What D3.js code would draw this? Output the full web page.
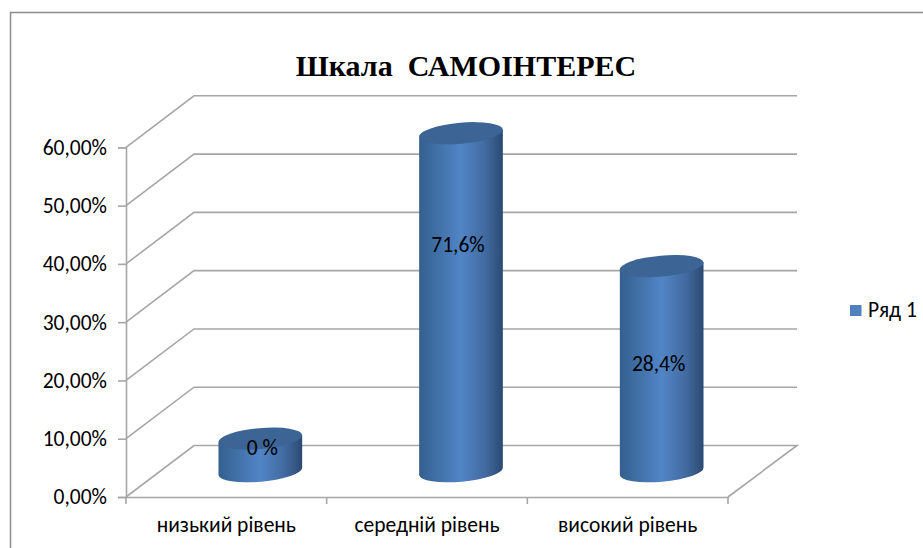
<!DOCTYPE html>
<html>
<head>
<meta charset="utf-8">
<script src="https://cdn.jsdelivr.net/npm/d3@7"></script>
<style>
html,body{margin:0;padding:0;background:#fff;}
svg{display:block;}
</style>
</head>
<body>
<svg id="chart" width="923" height="548"></svg>
<script>
// data
var categories=["низький рівень","середній рівень","високий рівень"];
var values=[5.6,58,35.2];
var barLabels=["0 %","71,6%","28,4%"];
var yTicks=[0,10,20,30,40,50,60];
var seriesName="Ряд 1";
var titleText="Шкала  САМОІНТЕРЕС";

var svg=d3.select("#chart");
var FONT="Carlito, Lato, 'Open Sans', sans-serif";
var AXIS="#a6a6a6";

var x=d3.scaleBand().domain(categories).range([126,728]);
var y=d3.scaleLinear().domain([0,60]).range([497,147.3]);
var depthX=68,depthY=-51.5;   // wall offset of the 3d box

// horizontal shading of the cylinder
var defs=svg.append("defs");
var grad=defs.append("linearGradient").attr("id","cyl");
grad.append("stop").attr("offset","0%").attr("stop-color","#34608f");
grad.append("stop").attr("offset","50%").attr("stop-color","#5185c6");
grad.append("stop").attr("offset","80%").attr("stop-color","#41699e");
grad.append("stop").attr("offset","100%").attr("stop-color","#2b4a72");

// outer frame
svg.append("path").attr("d","M10.5,548V12.5H923")
    .attr("fill","none").attr("stroke","#8c8c8c").attr("stroke-width",1.5);

// walls and gridlines
var grid=svg.append("g").attr("fill","none").attr("stroke",AXIS).attr("stroke-width",1.6);
yTicks.forEach(function(t){
    if(t===0){return;}
    grid.append("path").attr("d","M"+x.range()[0]+","+y(t)+"l"+depthX+","+depthY+"H"+(x.range()[1]+depthX+1));
});
grid.append("path").attr("d","M"+x.range()[0]+","+y(0)+"l"+depthX+","+depthY+"H"+(x.range()[1]+depthX+1)+"L"+x.range()[1]+","+y(0));

// axes
var yAxis=d3.axisLeft(y).tickValues(yTicks).tickSize(8).tickPadding(11)
    .tickFormat(function(d){return d3.format(".2f")(d).replace(".",",")+"%";});
var xAxis=d3.axisBottom(x).tickSize(0).tickPadding(20);
var gy=svg.append("g").attr("transform","translate("+x.range()[0]+",0)").call(yAxis);
var gx=svg.append("g").attr("transform","translate(0,"+y(0)+")").call(xAxis);
[gy,gx].forEach(function(g){
    g.attr("font-family",FONT).attr("font-size",21.5);
    g.selectAll("text").attr("fill","#000");
    g.selectAll("line,path").attr("stroke",AXIS).attr("stroke-width",1.6);
});
// category separators on the x axis
var seps=[x.range()[0]].concat(categories.map(function(d){return x(d)+x.bandwidth();}));
svg.append("g").selectAll("line").data(seps).join("line")
    .attr("x1",function(d){return d;})
    .attr("x2",function(d){return d;})
    .attr("y1",y(0)).attr("y2",y(0)+7)
    .attr("stroke",AXIS).attr("stroke-width",1.6);

// cylinders
var rx=42,ry=10.5,tilt=-5;
var labelShiftX=[2,-3,-3],labelShiftY=[-7,-57,-5];   // the labels sit off-centre in the original
var bars=svg.append("g").selectAll("g").data(categories).join("g");
bars.each(function(c,i){
    var g=d3.select(this);
    var cx=x(c)+x.bandwidth()/2+depthX/2;
    var base=y(0)+depthY/2;
    var top=base-(y(0)-y(values[i]));
    var a=tilt*Math.PI/180;
    var ex=rx*Math.cos(a),ey=rx*Math.sin(a);
    // side: left edge down, lower arc, right edge up
    g.append("path")
        .attr("d","M"+(cx-ex)+","+(top-ey)+"L"+(cx-ex)+","+(base-ey)
            +"A"+rx+","+ry+" "+tilt+" 0 0 "+(cx+ex)+","+(base+ey)
            +"L"+(cx+ex)+","+(top+ey)+"Z")
        .attr("fill","url(#cyl)");
    g.append("ellipse")
        .attr("rx",rx).attr("ry",ry)
        .attr("transform","translate("+cx+","+top+") rotate("+tilt+")")
        .attr("fill","#3c6494");
    g.append("text")
        .attr("x",cx+labelShiftX[i]).attr("y",(top+base)/2+labelShiftY[i])
        .attr("dy","0.32em")
        .attr("text-anchor","middle")
        .attr("font-family",FONT).attr("font-size",21.5).attr("fill","#000")
        .text(barLabels[i]);
});

// title
svg.append("text").attr("x",466).attr("y",76).attr("text-anchor","middle")
    .attr("font-family","'Liberation Serif', serif").attr("font-weight","bold")
    .attr("font-size",30).style("white-space","pre").text(titleText);

// legend
svg.append("rect").attr("x",850).attr("y",305).attr("width",11.5).attr("height",11).attr("fill","#4f81bd");
svg.append("text").attr("x",868).attr("y",317)
    .attr("font-family",FONT).attr("font-size",21.5).attr("fill","#000").text(seriesName);
</script>
</body>
</html>
